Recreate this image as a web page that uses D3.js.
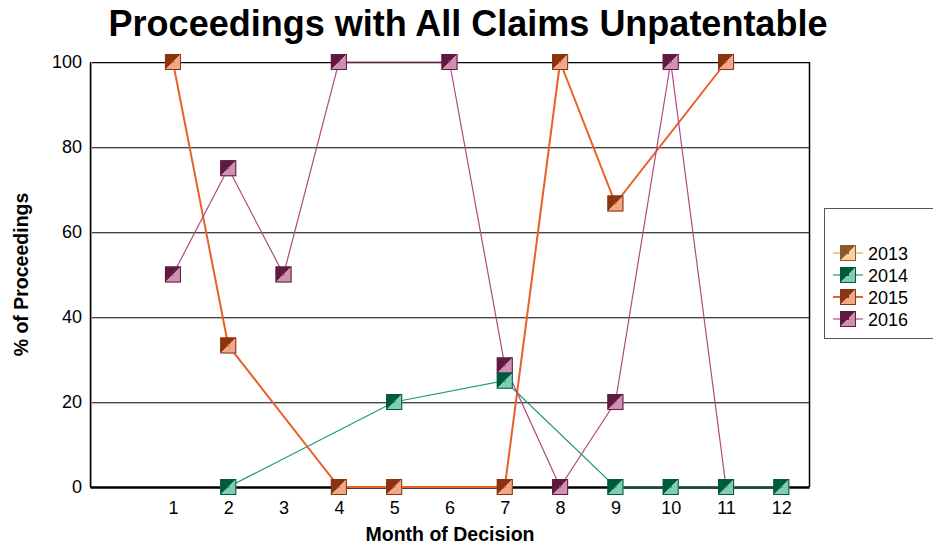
<!DOCTYPE html>
<html>
<head>
<meta charset="utf-8">
<script src="https://cdn.jsdelivr.net/npm/d3@7"></script>
<style>
  body { margin: 0; background: #fff; }
  svg { font-family: "Liberation Sans", Arial, sans-serif; }
</style>
</head>
<body>
<div id="chart"></div>
<script>
// --- Data ---
const months = [1, 2, 3, 4, 5, 6, 7, 8, 9, 10, 11, 12];
const yTicks = [0, 20, 40, 60, 80, 100];
const seriesNames = ["2013", "2014", "2015", "2016"];
const values2013 = [null, null, null, null, null, null, null, null, null, null, null, null];
const values2014 = [null, 0, null, null, 20, null, 25, null, 0, 0, 0, 0];
const values2015 = [100, 33.3, null, 0, 0, null, 0, 100, 66.7, null, 100, null];
const values2016 = [50, 75, 50, 100, null, 100, 28.6, 0, 20, 100, 0, null];

const styles = {
    "2013": { line: "#f0a04a", dark: "#8a5a2a", light: "#f8d0a0", width: 1.2 },
    "2014": { line: "#1a9a77", dark: "#005a40", light: "#80cdb0", width: 1.2 },
    "2015": { line: "#e8602a", dark: "#8a3510", light: "#f0a888", width: 2 },
    "2016": { line: "#b04a80", dark: "#5e1a40", light: "#d090b0", width: 1.2 }
};

const series = [values2013, values2014, values2015, values2016].map((vals, i) => ({
    name: seriesNames[i],
    points: vals.map((v, j) => ({ month: months[j], value: v })).filter(d => d.value !== null)
}));

// --- Layout ---
const width = 933, height = 548;
const plot = { left: 90, right: 809, top: 62, bottom: 487 };
const font = "Liberation Sans, Arial, sans-serif";

const svg = d3.select("#chart").append("svg")
    .attr("width", width)
    .attr("height", height);

const x = d3.scaleLinear().domain([-0.5, 12.5]).range([plot.left, plot.right]);
const y = d3.scaleLinear().domain([0, 100]).range([plot.bottom, plot.top]);

// Gridlines (dark line with a light shadow)
const gridTicks = yTicks.filter(t => t > 0 && t < 100);
const grid = svg.append("g");
grid.selectAll("line.shadow")
    .data(gridTicks)
    .enter().append("line")
    .attr("x1", plot.left).attr("x2", plot.right)
    .attr("y1", d => y(d) + 1.5).attr("y2", d => y(d) + 1.5)
    .attr("stroke", "#bbb").attr("stroke-width", 1);
grid.selectAll("line.main")
    .data(gridTicks)
    .enter().append("line")
    .attr("x1", plot.left).attr("x2", plot.right)
    .attr("y1", d => y(d) + 0.5).attr("y2", d => y(d) + 0.5)
    .attr("stroke", "#444").attr("stroke-width", 1);

// Frame
svg.append("line")
    .attr("x1", plot.left).attr("x2", plot.right)
    .attr("y1", plot.top + 0.5).attr("y2", plot.top + 0.5)
    .attr("stroke", "#000").attr("stroke-width", 1);
svg.append("line")
    .attr("x1", plot.left).attr("x2", plot.right)
    .attr("y1", plot.top + 1.5).attr("y2", plot.top + 1.5)
    .attr("stroke", "#bbb").attr("stroke-width", 1);
svg.append("line")
    .attr("x1", plot.right + 0.5).attr("x2", plot.right + 0.5)
    .attr("y1", plot.top).attr("y2", plot.bottom)
    .attr("stroke", "#000").attr("stroke-width", 1.5);
svg.append("line")
    .attr("x1", plot.left + 1.5).attr("x2", plot.left + 1.5)
    .attr("y1", plot.top).attr("y2", plot.bottom)
    .attr("stroke", "#bbb").attr("stroke-width", 1);

// Axes
const yAxis = svg.append("g")
    .attr("transform", `translate(${plot.left},0)`)
    .call(d3.axisLeft(y).tickValues(yTicks).tickSize(0).tickPadding(8));
yAxis.select(".domain").attr("stroke", "#000").attr("stroke-width", 1.5);
yAxis.selectAll("text").attr("font-size", 18).attr("fill", "#000").attr("font-family", font);

const xAxis = svg.append("g")
    .attr("transform", `translate(0,${plot.bottom})`)
    .call(d3.axisBottom(x).tickValues(months).tickSize(0).tickPadding(14));
xAxis.select(".domain").attr("stroke", "#000").attr("stroke-width", 2.5);
xAxis.selectAll("text").attr("font-size", 18).attr("fill", "#000").attr("font-family", font);

// --- Series ---
const line = d3.line().x(d => x(d.month)).y(d => y(d.value));

svg.append("g").selectAll("path")
    .data(series)
    .enter().append("path")
    .attr("d", d => line(d.points))
    .attr("fill", "none")
    .attr("stroke", d => styles[d.name].line)
    .attr("stroke-width", d => styles[d.name].width);

function drawMarker(g, s, size, dotColor) {
    const h = size / 2;
    g.append("path")
        .attr("d", `M${-h},${-h}L${h},${-h}L${-h},${h}Z`)
        .attr("fill", s.dark);
    g.append("path")
        .attr("d", `M${h},${-h}L${h},${h}L${-h},${h}Z`)
        .attr("fill", s.light);
    g.append("rect")
        .attr("x", -h + 0.5).attr("y", -h + 0.5)
        .attr("width", size - 1).attr("height", size - 1)
        .attr("fill", "none").attr("stroke", s.dark).attr("stroke-width", 1);
    g.append("rect")
        .attr("x", -1).attr("y", -1).attr("width", 2).attr("height", 2)
        .attr("fill", dotColor);
}

series.slice().reverse().forEach(sr => {
    const s = styles[sr.name];
    sr.points.forEach(p => {
        const g = svg.append("g").attr("transform", `translate(${x(p.month)},${y(p.value)})`);
        drawMarker(g, s, 16, s.line);
    });
});

// --- Titles ---
svg.append("text")
    .attr("x", 468).attr("y", 36)
    .attr("text-anchor", "middle")
    .attr("font-size", 36).attr("font-weight", "bold")
    .text("Proceedings with All Claims Unpatentable");

svg.append("text")
    .attr("x", 450).attr("y", 541)
    .attr("text-anchor", "middle")
    .attr("font-size", 19.5).attr("font-weight", "bold")
    .text("Month of Decision");

svg.append("text")
    .attr("transform", `translate(28,${(plot.top + plot.bottom) / 2}) rotate(-90)`)
    .attr("text-anchor", "middle")
    .attr("font-size", 19.5).attr("font-weight", "bold")
    .text("% of Proceedings");

// --- Legend ---
const legend = svg.append("g");
legend.append("rect")
    .attr("x", 824.5).attr("y", 208.5)
    .attr("width", 120).attr("height", 130)
    .attr("fill", "#fff").attr("stroke", "#555").attr("stroke-width", 1);

const legendY = d3.scalePoint().domain(seriesNames).range([253, 319]);
seriesNames.forEach(name => {
    const s = styles[name];
    const ly = legendY(name);
    legend.append("line")
        .attr("x1", 833).attr("x2", 863)
        .attr("y1", ly).attr("y2", ly)
        .attr("stroke", s.line).attr("stroke-width", s.width);
    const g = legend.append("g").attr("transform", `translate(848,${ly})`);
    drawMarker(g, s, 16, s.dark);
    legend.append("text")
        .attr("x", 868).attr("y", ly + 6.5)
        .attr("font-size", 18)
        .text(name);
});
</script>
</body>
</html>
